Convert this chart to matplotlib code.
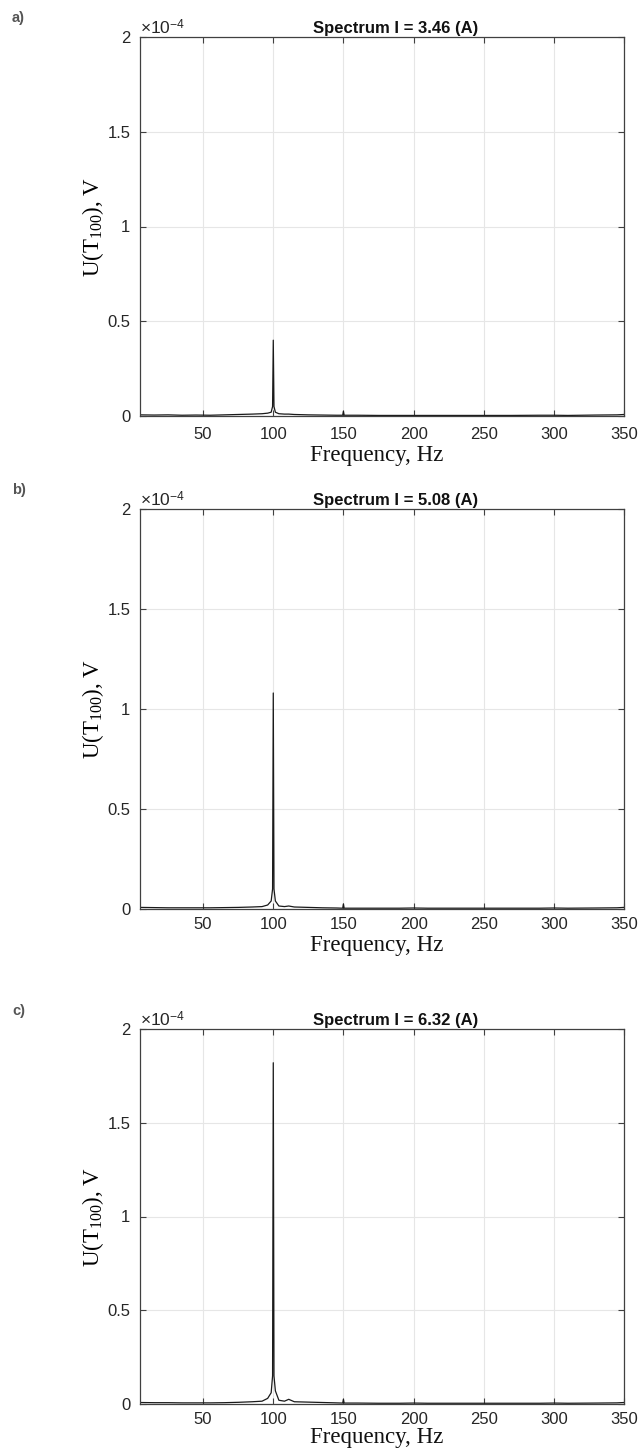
import matplotlib
matplotlib.use("Agg")
import matplotlib.pyplot as plt

plt.rcParams["mathtext.fontset"] = "custom"
plt.rcParams["mathtext.rm"] = "Liberation Serif"
plt.rcParams["mathtext.it"] = "Liberation Serif:italic"
plt.rcParams["mathtext.sf"] = "Liberation Sans"

# ---- data (amplitudes in units of 1e-4 V) ----
freq = [5, 15, 25, 35, 45, 55, 65, 75, 85, 92, 96, 98.5, 99.5, 100, 100.5, 101.5,
        104, 108, 111, 115, 125, 135, 145, 149.5, 150, 150.5, 160, 175, 190, 200,
        210, 230, 250, 270, 290, 300, 310, 330, 345, 350]

amp_a = [0.006, 0.005, 0.006, 0.004, 0.005, 0.004, 0.006, 0.008, 0.010, 0.012, 0.015, 0.02, 0.05,
         0.40, 0.05, 0.02, 0.012, 0.010, 0.010, 0.008, 0.006, 0.005, 0.004, 0.004, 0.025, 0.004,
         0.004, 0.003, 0.003, 0.003, 0.003, 0.003, 0.003, 0.003, 0.004, 0.004, 0.003, 0.005, 0.006, 0.008]

amp_b = [0.008, 0.007, 0.006, 0.006, 0.006, 0.006, 0.007, 0.008, 0.010, 0.012, 0.02, 0.04, 0.10,
         1.08, 0.10, 0.04, 0.015, 0.012, 0.015, 0.010, 0.008, 0.006, 0.005, 0.004, 0.025, 0.004,
         0.004, 0.004, 0.004, 0.005, 0.004, 0.004, 0.004, 0.004, 0.004, 0.005, 0.004, 0.005, 0.006, 0.008]

amp_c = [0.008, 0.007, 0.007, 0.006, 0.006, 0.006, 0.007, 0.009, 0.012, 0.015, 0.03, 0.06, 0.15,
         1.82, 0.15, 0.07, 0.02, 0.015, 0.025, 0.012, 0.010, 0.008, 0.006, 0.005, 0.025, 0.005,
         0.005, 0.004, 0.004, 0.005, 0.004, 0.004, 0.004, 0.004, 0.004, 0.005, 0.004, 0.005, 0.006, 0.008]

titles = ["Spectrum I = 3.46 (A)", "Spectrum I = 5.08 (A)", "Spectrum I = 6.32 (A)"]
panel_labels = ["a)", "b)", "c)"]
xticks = [50, 100, 150, 200, 250, 300, 350]
yticks = [0, 0.5, 1, 1.5, 2]
yticklabels = ["0", "0.5", "1", "1.5", "2"]

W, H = 640, 1451
fig = plt.figure(figsize=(W / 100, H / 100), dpi=100)

# axes boxes in pixels: (left, top, right, bottom)
boxes = [(140, 37, 624, 416), (140, 509, 624, 909), (140, 1029, 624, 1404)]
xlabel_y = [456, 946, 1438]
plabel_y = [18, 490, 1011]
series = [amp_a, amp_b, amp_c]

for i, (l, t, r, b) in enumerate(boxes):
    ax = fig.add_axes([l / W, 1 - b / H, (r - l) / W, (b - t) / H])
    ax.plot(freq, series[i], color="#1a1a1a", lw=0.9)
    ax.set_xlim(5, 350)
    ax.set_ylim(0, 2)
    ax.set_xticks(xticks)
    ax.set_yticks(yticks)
    ax.set_yticklabels(yticklabels)
    ax.grid(True, color="#e6e6e6", lw=0.8)
    ax.set_axisbelow(True)
    ax.tick_params(direction="in", length=4, width=0.8, colors="#404040",
                   labelcolor="#262626", labelsize=12, top=True, right=True,
                   labelfontfamily="Liberation Sans", pad=7)
    ax.tick_params(axis="x", pad=8 if i == 0 else 6)
    for s in ax.spines.values():
        s.set_color("#404040")
        s.set_linewidth(0.9)
    ax.set_title(titles[i], fontsize=12, fontweight="bold", family="Liberation Sans",
                 color="#111111", pad=3, x=0.5 + 14 / (r - l))
    ax.text(0.0, 1.0, "×10$^{\\mathsf{-4}}$", transform=ax.transAxes, fontsize=12.5,
            family="Liberation Sans", color="#262626", va="bottom", ha="left")
    ax.set_ylabel(r"U(T$_{100}$), V", family="Liberation Serif", fontsize=16.5)
    ax.yaxis.set_label_coords((106 - l) / (r - l), 0.5)
    fig.text(((l + r) / 2 - 5) / W, 1 - xlabel_y[i] / H, "Frequency, Hz", family="Liberation Serif",
             fontsize=16.5, ha="center", va="center", color="#111111")
    fig.text(12 / W, 1 - plabel_y[i] / H, panel_labels[i], family="Liberation Sans",
             fontsize=10.5, fontweight="bold", color="#555555", va="center", ha="left")

fig.savefig("out.png", dpi=100)
